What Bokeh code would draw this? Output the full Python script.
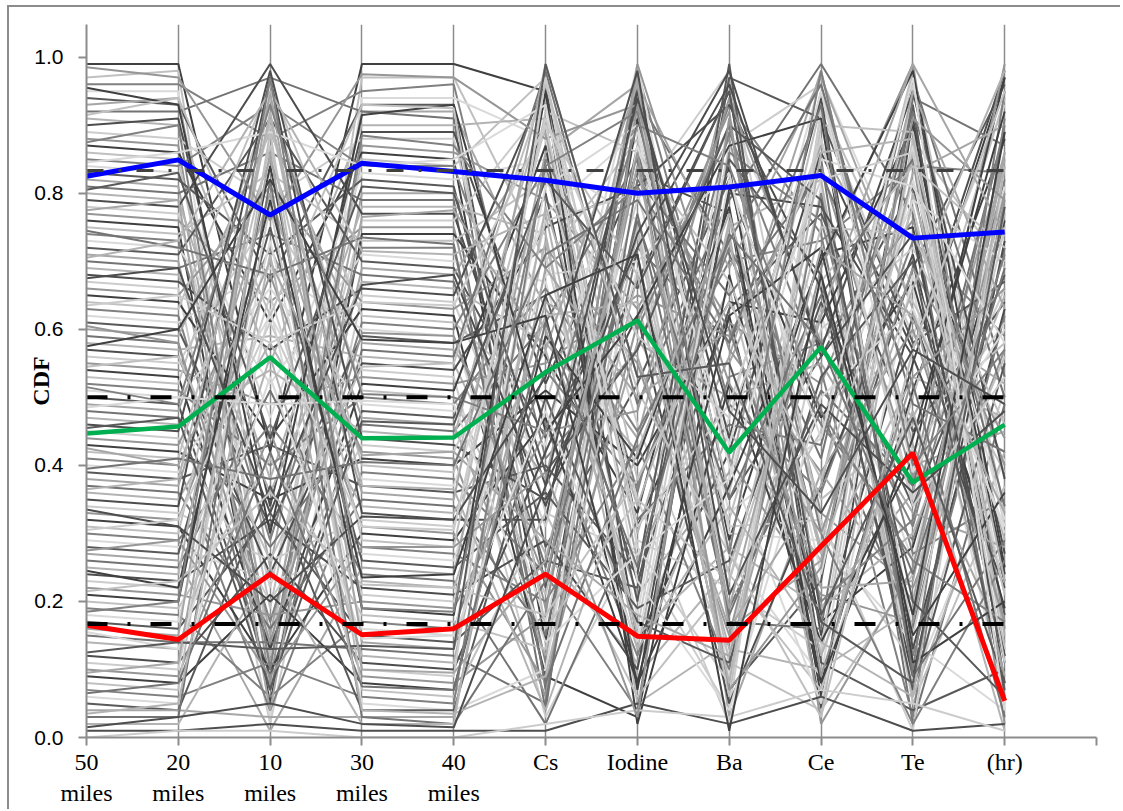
import math
from bokeh.plotting import figure
from bokeh.models import FixedTicker, ColumnDataSource
from bokeh.embed import file_html
from bokeh.resources import INLINE

# ---------------- data ----------------
categories = ["50\nmiles", "20\nmiles", "10\nmiles", "30\nmiles", "40\nmiles",
              "Cs", "Iodine", "Ba", "Ce", "Te", "(hr)"]

blue_series = [0.825, 0.849, 0.768, 0.844, 0.832, 0.819, 0.800, 0.809, 0.826, 0.734, 0.743]
green_series = [0.447, 0.457, 0.559, 0.440, 0.441, 0.537, 0.613, 0.419, 0.574, 0.375, 0.460]
red_series = [0.165, 0.144, 0.240, 0.151, 0.160, 0.240, 0.149, 0.143, 0.281, 0.418, 0.054]

cdf_levels = [0.8333, 0.5, 0.1667]

gray_series = [
    [0.99, 0.99, 0.42, 0.99, 0.99, 0.95, 0.31, 0.62, 0.08, 0.55, 0.97],
    [0.97, 0.98, 0.12, 0.97, 0.97, 0.70, 0.88, 0.21, 0.45, 0.98, 0.33],
    [0.96, 0.96, 0.88, 0.95, 0.96, 0.41, 0.57, 0.93, 0.74, 0.12, 0.62],
    [0.95, 0.95, 0.03, 0.94, 0.94, 0.88, 0.15, 0.47, 0.97, 0.66, 0.05],
    [0.94, 0.93, 0.67, 0.93, 0.93, 0.22, 0.96, 0.35, 0.56, 0.81, 0.18],
    [0.93, 0.94, 0.25, 0.92, 0.92, 0.63, 0.44, 0.97, 0.19, 0.36, 0.86],
    [0.92, 0.92, 0.97, 0.92, 0.91, 0.07, 0.72, 0.58, 0.85, 0.02, 0.49],
    [0.91, 0.90, 0.55, 0.90, 0.90, 0.91, 0.05, 0.14, 0.63, 0.47, 0.74],
    [0.90, 0.91, 0.34, 0.89, 0.89, 0.52, 0.83, 0.77, 0.04, 0.91, 0.27],
    [0.89, 0.88, 0.79, 0.88, 0.88, 0.33, 0.27, 0.04, 0.92, 0.59, 0.93],
    [0.88, 0.87, 0.08, 0.87, 0.86, 0.79, 0.63, 0.88, 0.33, 0.22, 0.57],
    [0.87, 0.86, 0.61, 0.86, 0.85, 0.14, 0.91, 0.29, 0.71, 0.75, 0.11],
    [0.86, 0.85, 0.19, 0.85, 0.84, 0.97, 0.38, 0.66, 0.12, 0.88, 0.69],
    [0.85, 0.84, 0.93, 0.84, 0.84, 0.46, 0.12, 0.53, 0.58, 0.31, 0.82],
    [0.84, 0.83, 0.47, 0.83, 0.82, 0.85, 0.76, 0.09, 0.81, 0.08, 0.41],
    [0.83, 0.82, 0.71, 0.82, 0.81, 0.28, 0.52, 0.82, 0.27, 0.69, 0.96],
    [0.82, 0.81, 0.15, 0.80, 0.80, 0.60, 0.21, 0.39, 0.95, 0.43, 0.14],
    [0.81, 0.80, 0.86, 0.79, 0.79, 0.04, 0.94, 0.71, 0.41, 0.97, 0.53],
    [0.80, 0.79, 0.38, 0.78, 0.78, 0.74, 0.09, 0.25, 0.67, 0.18, 0.78],
    [0.79, 0.78, 0.99, 0.77, 0.77, 0.37, 0.67, 0.95, 0.15, 0.62, 0.23],
    [0.78, 0.77, 0.22, 0.76, 0.76, 0.93, 0.46, 0.12, 0.88, 0.35, 0.66],
    [0.77, 0.76, 0.64, 0.75, 0.75, 0.19, 0.84, 0.61, 0.52, 0.85, 0.02],
    [0.76, 0.75, 0.05, 0.74, 0.74, 0.56, 0.33, 0.84, 0.06, 0.51, 0.88],
    [0.75, 0.74, 0.83, 0.73, 0.73, 0.82, 0.59, 0.32, 0.79, 0.05, 0.37],
    [0.74, 0.73, 0.29, 0.72, 0.72, 0.11, 0.98, 0.49, 0.36, 0.73, 0.59],
    [0.73, 0.72, 0.52, 0.71, 0.70, 0.67, 0.18, 0.91, 0.62, 0.26, 0.81],
    [0.72, 0.71, 0.91, 0.70, 0.69, 0.44, 0.71, 0.07, 0.23, 0.93, 0.08],
    [0.71, 0.70, 0.11, 0.69, 0.68, 0.89, 0.26, 0.56, 0.98, 0.40, 0.45],
    [0.70, 0.69, 0.74, 0.68, 0.67, 0.25, 0.87, 0.19, 0.48, 0.16, 0.72],
    [0.69, 0.68, 0.36, 0.67, 0.66, 0.58, 0.42, 0.74, 0.03, 0.80, 0.29],
    [0.68, 0.67, 0.57, 0.66, 0.65, 0.96, 0.14, 0.42, 0.86, 0.57, 0.98],
    [0.67, 0.66, 0.02, 0.65, 0.64, 0.31, 0.79, 0.98, 0.31, 0.11, 0.51],
    [0.66, 0.65, 0.81, 0.64, 0.63, 0.72, 0.55, 0.15, 0.69, 0.99, 0.16],
    [0.65, 0.64, 0.44, 0.63, 0.62, 0.09, 0.03, 0.68, 0.17, 0.28, 0.76],
    [0.64, 0.63, 0.96, 0.62, 0.61, 0.49, 0.92, 0.36, 0.93, 0.64, 0.39],
    [0.63, 0.62, 0.17, 0.61, 0.60, 0.84, 0.36, 0.89, 0.54, 0.03, 0.91],
    [0.62, 0.61, 0.69, 0.60, 0.59, 0.17, 0.69, 0.27, 0.09, 0.87, 0.21],
    [0.61, 0.60, 0.31, 0.59, 0.58, 0.65, 0.23, 0.63, 0.77, 0.45, 0.64],
    [0.60, 0.59, 0.89, 0.58, 0.57, 0.38, 0.97, 0.03, 0.39, 0.20, 0.85],
    [0.59, 0.58, 0.07, 0.57, 0.56, 0.98, 0.49, 0.79, 0.99, 0.77, 0.06],
    [0.58, 0.57, 0.59, 0.56, 0.55, 0.27, 0.11, 0.45, 0.26, 0.53, 0.47],
    [0.57, 0.56, 0.24, 0.55, 0.54, 0.75, 0.81, 0.93, 0.66, 0.09, 0.73],
    [0.56, 0.55, 0.77, 0.54, 0.53, 0.03, 0.29, 0.22, 0.13, 0.96, 0.31],
    [0.55, 0.54, 0.49, 0.53, 0.52, 0.55, 0.65, 0.59, 0.84, 0.38, 0.99],
    [0.54, 0.53, 0.13, 0.52, 0.51, 0.87, 0.07, 0.81, 0.47, 0.67, 0.19],
    [0.53, 0.52, 0.94, 0.51, 0.50, 0.21, 0.75, 0.11, 0.04, 0.24, 0.56],
    [0.52, 0.51, 0.40, 0.50, 0.49, 0.66, 0.45, 0.70, 0.73, 0.84, 0.83],
    [0.51, 0.50, 0.66, 0.49, 0.48, 0.43, 0.99, 0.30, 0.29, 0.14, 0.04],
    [0.50, 0.49, 0.09, 0.48, 0.47, 0.80, 0.20, 0.97, 0.91, 0.58, 0.67],
    [0.49, 0.48, 0.85, 0.47, 0.46, 0.12, 0.58, 0.50, 0.55, 0.33, 0.28],
    [0.48, 0.47, 0.28, 0.46, 0.45, 0.61, 0.85, 0.17, 0.16, 0.94, 0.87],
    [0.47, 0.46, 0.54, 0.45, 0.44, 0.94, 0.30, 0.75, 0.82, 0.06, 0.42],
    [0.46, 0.45, 0.98, 0.44, 0.43, 0.35, 0.62, 0.05, 0.37, 0.71, 0.12],
    [0.45, 0.44, 0.20, 0.43, 0.42, 0.71, 0.16, 0.87, 0.96, 0.42, 0.61],
    [0.44, 0.43, 0.72, 0.42, 0.41, 0.06, 0.93, 0.41, 0.21, 0.17, 0.79],
    [0.43, 0.42, 0.35, 0.41, 0.40, 0.51, 0.40, 0.64, 0.61, 0.90, 0.24],
    [0.42, 0.41, 0.90, 0.40, 0.39, 0.90, 0.68, 0.24, 0.07, 0.50, 0.94],
    [0.41, 0.40, 0.04, 0.39, 0.38, 0.24, 0.04, 0.86, 0.76, 0.27, 0.35],
    [0.40, 0.39, 0.62, 0.38, 0.37, 0.77, 0.89, 0.33, 0.44, 0.79, 0.70],
    [0.39, 0.38, 0.43, 0.37, 0.36, 0.40, 0.24, 0.99, 0.11, 0.04, 0.10],
    [0.38, 0.37, 0.80, 0.36, 0.35, 0.99, 0.53, 0.55, 0.87, 0.61, 0.52],
    [0.37, 0.36, 0.16, 0.35, 0.34, 0.15, 0.77, 0.18, 0.51, 0.37, 0.89],
    [0.36, 0.35, 0.58, 0.34, 0.33, 0.57, 0.13, 0.76, 0.28, 0.86, 0.15],
    [0.35, 0.34, 0.97, 0.33, 0.32, 0.32, 0.95, 0.44, 0.94, 0.13, 0.63],
    [0.34, 0.33, 0.26, 0.32, 0.31, 0.83, 0.35, 0.02, 0.60, 0.72, 0.44],
    [0.33, 0.32, 0.68, 0.31, 0.30, 0.08, 0.61, 0.92, 0.02, 0.25, 0.80],
    [0.32, 0.31, 0.10, 0.30, 0.29, 0.47, 0.08, 0.37, 0.70, 0.98, 0.25],
    [0.31, 0.30, 0.87, 0.29, 0.28, 0.92, 0.86, 0.67, 0.35, 0.46, 0.58],
    [0.30, 0.29, 0.46, 0.28, 0.27, 0.20, 0.43, 0.10, 0.80, 0.10, 0.95],
    [0.29, 0.28, 0.23, 0.27, 0.26, 0.68, 0.70, 0.83, 0.24, 0.82, 0.32],
    [0.28, 0.27, 0.75, 0.26, 0.25, 0.36, 0.19, 0.26, 0.64, 0.34, 0.68],
    [0.27, 0.26, 0.01, 0.25, 0.24, 0.86, 0.96, 0.69, 0.97, 0.63, 0.09],
    [0.26, 0.25, 0.51, 0.24, 0.23, 0.02, 0.32, 0.46, 0.43, 0.92, 0.50],
    [0.25, 0.24, 0.92, 0.23, 0.22, 0.62, 0.64, 0.13, 0.10, 0.19, 0.77],
    [0.24, 0.23, 0.32, 0.22, 0.21, 0.29, 0.10, 0.80, 0.78, 0.56, 0.22],
    [0.23, 0.22, 0.65, 0.21, 0.20, 0.76, 0.80, 0.31, 0.32, 0.01, 0.84],
    [0.22, 0.21, 0.18, 0.20, 0.19, 0.45, 0.48, 0.94, 0.58, 0.76, 0.40],
    [0.21, 0.20, 0.84, 0.19, 0.18, 0.95, 0.02, 0.52, 0.14, 0.41, 0.97],
    [0.20, 0.19, 0.41, 0.18, 0.17, 0.13, 0.74, 0.06, 0.90, 0.89, 0.13],
    [0.19, 0.18, 0.06, 0.17, 0.16, 0.54, 0.37, 0.72, 0.46, 0.29, 0.71],
    [0.18, 0.17, 0.73, 0.16, 0.15, 0.81, 0.90, 0.40, 0.05, 0.68, 0.30],
    [0.17, 0.16, 0.33, 0.15, 0.14, 0.26, 0.22, 0.85, 0.68, 0.07, 0.55],
    [0.16, 0.15, 0.95, 0.14, 0.13, 0.64, 0.56, 0.16, 0.26, 0.83, 0.90],
    [0.15, 0.14, 0.14, 0.13, 0.12, 0.05, 0.82, 0.65, 0.83, 0.52, 0.03],
    [0.14, 0.13, 0.56, 0.12, 0.11, 0.73, 0.15, 0.28, 0.19, 0.30, 0.65],
    [0.12, 0.11, 0.27, 0.11, 0.10, 0.42, 0.72, 0.96, 0.57, 0.95, 0.38],
    [0.11, 0.10, 0.78, 0.10, 0.09, 0.97, 0.28, 0.08, 0.92, 0.15, 0.75],
    [0.10, 0.09, 0.45, 0.09, 0.08, 0.18, 0.99, 0.57, 0.39, 0.60, 0.17],
    [0.09, 0.08, 0.21, 0.08, 0.07, 0.59, 0.41, 0.78, 0.08, 0.44, 0.92],
    [0.08, 0.07, 0.89, 0.07, 0.06, 0.33, 0.06, 0.23, 0.75, 0.74, 0.46],
    [0.07, 0.06, 0.11, 0.06, 0.05, 0.85, 0.60, 0.90, 0.30, 0.02, 0.26],
    [0.06, 0.05, 0.63, 0.05, 0.04, 0.10, 0.87, 0.43, 0.95, 0.39, 0.60],
    [0.05, 0.04, 0.37, 0.04, 0.04, 0.50, 0.17, 0.11, 0.53, 0.70, 0.07],
    [0.04, 0.04, 0.03, 0.03, 0.03, 0.69, 0.50, 0.60, 0.22, 0.23, 0.86],
    [0.03, 0.03, 0.82, 0.03, 0.02, 0.23, 0.76, 0.35, 0.65, 0.85, 0.34],
    [0.02, 0.02, 0.25, 0.02, 0.02, 0.78, 0.34, 0.73, 0.12, 0.48, 0.01],
    [0.01, 0.01, 0.02, 0.01, 0.01, 0.01, 0.05, 0.02, 0.06, 0.01, 0.02],
    [0.00, 0.01, 0.01, 0.00, 0.00, 0.02, 0.04, 0.03, 0.07, 0.05, 0.01],
    [0.985, 0.97, 0.76, 0.975, 0.97, 0.88, 0.93, 0.52, 0.30, 0.69, 0.44],
    [0.955, 0.93, 0.30, 0.915, 0.93, 0.45, 0.62, 0.87, 0.91, 0.11, 0.20],
    [0.915, 0.94, 0.62, 0.93, 0.925, 0.16, 0.35, 0.23, 0.67, 0.84, 0.72],
    [0.875, 0.90, 0.10, 0.885, 0.87, 0.69, 0.81, 0.60, 0.20, 0.32, 0.90],
    [0.845, 0.86, 0.89, 0.84, 0.85, 0.93, 0.23, 0.04, 0.50, 0.63, 0.31],
    [0.805, 0.83, 0.44, 0.81, 0.80, 0.39, 0.57, 0.90, 0.79, 0.20, 0.06],
    [0.775, 0.79, 0.04, 0.765, 0.775, 0.57, 0.96, 0.16, 0.37, 0.95, 0.63],
    [0.745, 0.72, 0.68, 0.735, 0.725, 0.08, 0.44, 0.73, 0.96, 0.49, 0.42],
    [0.705, 0.73, 0.95, 0.715, 0.71, 0.77, 0.13, 0.34, 0.14, 0.06, 0.84],
    [0.675, 0.69, 0.33, 0.665, 0.68, 0.34, 0.74, 0.98, 0.56, 0.74, 0.12],
    [0.635, 0.65, 0.58, 0.64, 0.635, 0.90, 0.31, 0.49, 0.88, 0.34, 0.53],
    [0.605, 0.58, 0.14, 0.595, 0.59, 0.23, 0.86, 0.07, 0.25, 0.91, 0.79],
    [0.575, 0.60, 0.82, 0.585, 0.58, 0.62, 0.08, 0.62, 0.72, 0.15, 0.36],
    [0.545, 0.56, 0.26, 0.545, 0.55, 0.96, 0.51, 0.27, 0.03, 0.57, 0.95],
    [0.515, 0.49, 0.93, 0.505, 0.50, 0.45, 0.90, 0.84, 0.48, 0.26, 0.17],
    [0.485, 0.50, 0.49, 0.495, 0.49, 0.14, 0.27, 0.38, 0.85, 0.81, 0.58],
    [0.455, 0.47, 0.07, 0.465, 0.46, 0.82, 0.66, 0.95, 0.18, 0.47, 0.08],
    [0.425, 0.40, 0.70, 0.415, 0.42, 0.29, 0.18, 0.12, 0.62, 0.99, 0.74],
    [0.395, 0.41, 0.38, 0.405, 0.40, 0.71, 0.79, 0.58, 0.93, 0.09, 0.29],
    [0.365, 0.38, 0.91, 0.37, 0.365, 0.04, 0.42, 0.77, 0.27, 0.66, 0.98],
    [0.335, 0.31, 0.20, 0.325, 0.32, 0.53, 0.98, 0.21, 0.49, 0.36, 0.48],
    [0.305, 0.32, 0.61, 0.31, 0.305, 0.91, 0.59, 0.47, 0.82, 0.86, 0.11],
    [0.275, 0.29, 0.09, 0.28, 0.28, 0.39, 0.03, 0.91, 0.09, 0.53, 0.66],
    [0.245, 0.22, 0.79, 0.235, 0.24, 0.65, 0.71, 0.01, 0.68, 0.18, 0.89],
    [0.215, 0.23, 0.36, 0.225, 0.22, 0.18, 0.38, 0.64, 0.38, 0.78, 0.21],
    [0.185, 0.20, 0.97, 0.19, 0.185, 0.84, 0.92, 0.27, 0.98, 0.40, 0.57],
    [0.155, 0.13, 0.53, 0.145, 0.15, 0.48, 0.14, 0.82, 0.44, 0.97, 0.04],
    [0.125, 0.14, 0.13, 0.135, 0.13, 0.99, 0.53, 0.55, 0.17, 0.08, 0.78],
    [0.095, 0.11, 0.86, 0.10, 0.095, 0.26, 0.84, 0.19, 0.72, 0.62, 0.33],
    [0.065, 0.08, 0.42, 0.075, 0.07, 0.61, 0.25, 0.74, 0.58, 0.24, 0.69],
    [0.035, 0.05, 0.71, 0.04, 0.035, 0.09, 0.68, 0.08, 0.86, 0.88, 0.23],
    [0.015, 0.03, 0.05, 0.02, 0.015, 0.37, 0.94, 0.48, 0.33, 0.57, 0.49],
]

# ---------------- styles ----------------
gray_palette = ["#404040", "#c0c0c0", "#808080", "#d9d9d9", "#595959",
                "#a6a6a6", "#737373", "#b3b3b3", "#4d4d4d", "#cccccc", "#969696"]
level_colors = ["#404040", "#000000", "#000000"]
level_widths = [3, 4, 4]
level_dashes = ["17 15 3 15", "21 20 3 20", "21 20 3 20"]

x_idx = list(range(len(categories)))
n_slots = len(categories) + 1  # one empty slot at the right end

p = figure(width=1120, height=809,
           x_range=(0, n_slots - 1), y_range=(0, 1.048),
           output_backend="svg", toolbar_location=None,
           min_border_left=86, min_border_right=24,
           min_border_top=24, min_border_bottom=72)
# outer chart frame (top and left edges) painted as the element background
p.styles = {
    "background-color": "white",
    "background-image": "linear-gradient(#8c8c8c, #8c8c8c), linear-gradient(#8c8c8c, #8c8c8c)",
    "background-size": "100% 2px, 2px 100%",
    "background-position": "7px 5px, 7px 5px",
    "background-repeat": "no-repeat",
}
p.outline_line_color = None
p.background_fill_color = "white"
p.border_fill_alpha = 0.0

# gray sample lines
src = ColumnDataSource(dict(
    xs=[x_idx for _ in gray_series],
    ys=gray_series,
    color=[gray_palette[i % len(gray_palette)] for i in range(len(gray_series))],
))
p.multi_line(xs="xs", ys="ys", line_color="color", line_width=2, source=src)

# highlighted lines
p.line(x_idx, blue_series, line_color="#0000ff", line_width=5)
p.line(x_idx, green_series, line_color="#00b050", line_width=4.5)
p.line(x_idx, red_series, line_color="#ff0000", line_width=5)

# CDF reference levels
for lvl, c, w, d in zip(cdf_levels, level_colors, level_widths, level_dashes):
    p.line([x_idx[0], x_idx[-1]], [lvl, lvl], line_color=c, line_width=w,
           line_dash=d)

# axes
p.xaxis.ticker = FixedTicker(ticks=list(range(n_slots)))
p.xaxis.major_label_overrides = {i: (categories[i] if i < len(categories) else "")
                                 for i in range(n_slots)}
p.xaxis.major_label_text_font = "Liberation Serif"
p.xaxis.major_label_text_font_size = "24px"
p.xaxis.major_label_text_color = "black"
p.xaxis.major_label_text_line_height = 1.2
p.xaxis.major_label_standoff = 3
p.xaxis.major_tick_out = 8
p.xaxis.major_tick_in = 0
p.xaxis.minor_tick_line_color = None
p.xaxis.axis_line_color = "#8c8c8c"
p.xaxis.axis_line_width = 2
p.xaxis.major_tick_line_color = "#8c8c8c"
p.xaxis.major_tick_line_width = 2

p.yaxis.ticker = FixedTicker(ticks=[0.0, 0.2, 0.4, 0.6, 0.8, 1.0])
p.yaxis.major_label_overrides = {0.0: "0.0", 0.2: "0.2", 0.4: "0.4",
                                 0.6: "0.6", 0.8: "0.8", 1.0: "1.0"}
p.yaxis.major_label_text_font = "Liberation Sans"
p.yaxis.major_label_text_font_size = "21px"
p.yaxis.major_label_text_color = "black"
p.yaxis.major_label_standoff = 15
p.yaxis.major_tick_out = 8
p.yaxis.major_tick_in = 0
p.yaxis.minor_tick_line_color = None
p.yaxis.axis_line_color = "#8c8c8c"
p.yaxis.axis_line_width = 2
p.yaxis.major_tick_line_color = "#8c8c8c"
p.yaxis.major_tick_line_width = 2
p.yaxis.axis_label = "CDF"
p.yaxis.axis_label_text_font = "Liberation Serif"
p.yaxis.axis_label_text_font_style = "bold"
p.yaxis.axis_label_text_font_size = "24px"
p.yaxis.axis_label_text_color = "black"
p.yaxis.axis_label_standoff = -23

p.xgrid.ticker = FixedTicker(ticks=list(range(n_slots)))
p.xgrid.grid_line_color = "#8c8c8c"
p.xgrid.grid_line_width = 1.5
p.ygrid.grid_line_color = None

open("out.html", "w").write(file_html(p, INLINE))
